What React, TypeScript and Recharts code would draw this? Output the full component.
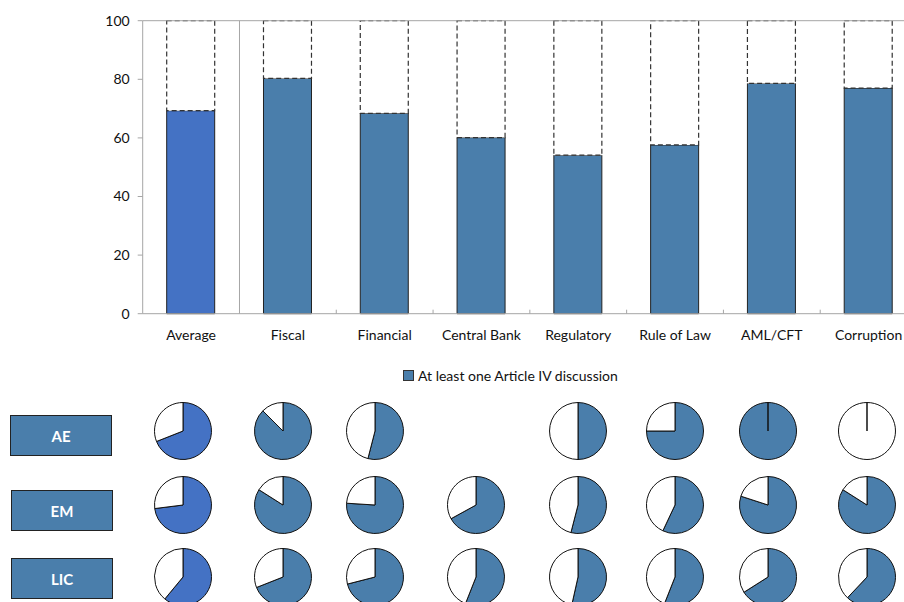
import { BarChart, Bar, XAxis, YAxis, Cell, ReferenceLine, PieChart, Pie } from "recharts";

const categories = ["Average", "Fiscal", "Financial", "Central Bank", "Regulatory", "Rule of Law", "AML/CFT", "Corruption"];
const shareWithDiscussion = [69.3, 80.3, 68.4, 60.1, 54.1, 57.6, 78.6, 77.0];
const yTicks = [0, 20, 40, 60, 80, 100];

const groupNames = ["AE", "EM", "LIC"];
const aeShares: (number | null)[] = [69, 87.5, 54, null, 50, 75, 100, 0];
const emShares: (number | null)[] = [73, 84, 76, 67, 54, 57, 80, 84];
const licShares: (number | null)[] = [61, 69, 71, 56, 53.5, 56, 66, 62];
const groupShares = [aeShares, emShares, licShares];

const legendLabel = "At least one Article IV discussion";

const AVG_BLUE = "#4472C4";
const STEEL = "#4A7EAB";
const AXIS_GRAY = "#A6A6A6";
const FONT = "Lato, 'Open Sans', sans-serif";

const CHART_W = 930;
const CHART_H = 345;
const PLOT_LEFT = 142.7;
const PLOT_RIGHT = 917;
const PLOT_TOP = 20.7;
const PLOT_BOTTOM = 313.7;
const BAND = (PLOT_RIGHT - PLOT_LEFT) / categories.length;

// pie grid layout
const pieCols = [183, 283, 375, 476, 578, 675, 768, 867];
const pieRows = [431, 505, 577];
const labelBoxes = [
  { top: 415, left: 10 },
  { top: 490, left: 11 },
  { top: 558, left: 11 },
];

const barData = categories.map((name, i) => ({
  name,
  value: shareWithDiscussion[i],
  rest: 100 - shareWithDiscussion[i],
}));

function CategoryTick(props: any) {
  const { x, payload } = props;
  const i = categories.indexOf(payload.value);
  const left = x - BAND / 2;
  return (
    <g>
      {i === 1 && (
        <line x1={left} x2={left} y1={PLOT_TOP} y2={PLOT_BOTTOM} stroke={AXIS_GRAY} strokeWidth={1} />
      )}
      {i > 1 && (
        <line x1={left} x2={left} y1={PLOT_BOTTOM} y2={PLOT_BOTTOM - 4} stroke={AXIS_GRAY} strokeWidth={1} />
      )}
      <text x={x} y={PLOT_BOTTOM + 26} textAnchor="middle" fontSize={14} fill="#111" fontFamily={FONT}>
        {payload.value}
      </text>
    </g>
  );
}

export default function App() {
  return (
    <div
      style={{
        position: "absolute",
        left: 0,
        top: 0,
        width: 904,
        height: 602,
        overflow: "hidden",
        background: "#fff",
        fontFamily: FONT,
      }}
    >
      <div style={{ position: "absolute", left: 0, top: 0 }}>
        <BarChart
          width={CHART_W}
          height={CHART_H}
          data={barData}
          margin={{ top: PLOT_TOP, right: CHART_W - PLOT_RIGHT, left: 0, bottom: 0 }}
        >
          <XAxis
            dataKey="name"
            height={CHART_H - PLOT_BOTTOM}
            tick={<CategoryTick />}
            tickLine={false}
            tickSize={0}
            stroke={AXIS_GRAY}
            interval={0}
          />
          <YAxis
            width={PLOT_LEFT}
            domain={[0, 100]}
            ticks={yTicks}
            tickSize={5}
            tickMargin={8}
            stroke={AXIS_GRAY}
            tick={{ fontSize: 14, fill: "#111", fontFamily: FONT }}
          />
          <ReferenceLine y={100} stroke={AXIS_GRAY} strokeWidth={1} />
          <Bar dataKey="value" stackId="a" barSize={48} stroke="#222" strokeWidth={1} isAnimationActive={false}>
            {barData.map((d, i) => (
              <Cell key={d.name} fill={i === 0 ? AVG_BLUE : STEEL} />
            ))}
          </Bar>
          <Bar
            dataKey="rest"
            stackId="a"
            barSize={48}
            fill="#fff"
            stroke="#333"
            strokeWidth={1.2}
            strokeDasharray="5 3"
            isAnimationActive={false}
          />
        </BarChart>
      </div>

      <div
        style={{
          position: "absolute",
          left: 403,
          top: 367,
          display: "flex",
          alignItems: "center",
          fontSize: 14,
          color: "#111",
          whiteSpace: "nowrap",
        }}
      >
        <span
          style={{
            display: "inline-block",
            width: 9,
            height: 9,
            background: STEEL,
            border: "1px solid #333",
            marginRight: 4,
          }}
        />
        {legendLabel}
      </div>

      {groupNames.map((g, r) => (
        <div
          key={g}
          style={{
            position: "absolute",
            left: labelBoxes[r].left,
            top: labelBoxes[r].top,
            width: 100,
            height: 39,
            background: STEEL,
            border: "1.5px solid #222",
            color: "#fff",
            fontWeight: 700,
            fontSize: 15,
            display: "flex",
            alignItems: "center",
            justifyContent: "center",
          }}
        >
          {g}
        </div>
      ))}

      <div style={{ position: "absolute", left: 0, top: 0 }}>
        <PieChart width={904} height={640} margin={{ top: 0, right: 0, bottom: 0, left: 0 }}>
          {groupShares.map((shares, r) =>
            shares.map((v, c) => {
              if (v === null) return null;
              const slices = [
                { name: "yes", value: v },
                { name: "no", value: 100 - v },
              ];
              return (
                <Pie
                  key={`${r}-${c}`}
                  data={slices}
                  dataKey="value"
                  cx={pieCols[c]}
                  cy={pieRows[r]}
                  outerRadius={28.5}
                  innerRadius={0}
                  startAngle={90}
                  endAngle={-270}
                  stroke="#111"
                  strokeWidth={1}
                  isAnimationActive={false}
                >
                  {slices.map((s, k) => (
                    <Cell
                      key={s.name}
                      fill={k === 0 ? (c === 0 ? AVG_BLUE : STEEL) : "#fff"}
                      strokeWidth={s.value === 0 ? 2.5 : 1}
                    />
                  ))}
                </Pie>
              );
            })
          )}
        </PieChart>
      </div>
    </div>
  );
}
